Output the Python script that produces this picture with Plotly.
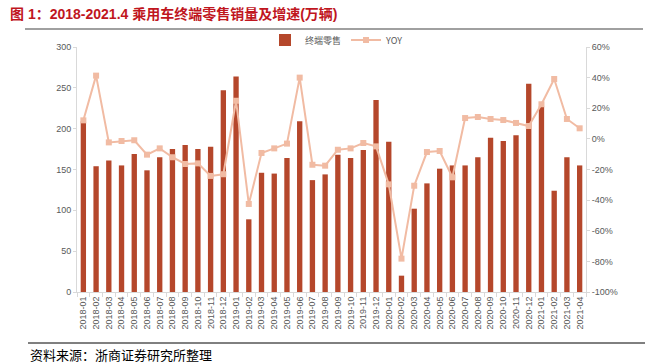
import plotly.graph_objects as go

months = ["2018-01","2018-02","2018-03","2018-04","2018-05","2018-06","2018-07","2018-08","2018-09","2018-10","2018-11","2018-12",
          "2019-01","2019-02","2019-03","2019-04","2019-05","2019-06","2019-07","2019-08","2019-09","2019-10","2019-11","2019-12",
          "2020-01","2020-02","2020-03","2020-04","2020-05","2020-06","2020-07","2020-08","2020-09","2020-10","2020-11","2020-12",
          "2021-01","2021-02","2021-03","2021-04"]
retail = [209, 154, 161, 155, 169, 149, 165, 175, 180, 175, 178, 247,
          264, 89, 146, 145, 164, 209, 137, 144, 168, 164, 174, 235,
          184, 20, 102, 133, 151, 155, 155, 165, 189, 185, 192, 255,
          227, 124, 165, 155]
yoy = [12.1, 41.3, -2.3, -1.4, -0.9, -10.3, -6.2, -12.0, -16.4, -16.0, -24.2, -23.1,
       24.9, -42.5, -9.2, -6.2, -3.1, 40.0, -16.9, -17.5, -7.1, -6.2, -2.7, -4.9,
       -29.7, -78.2, -30.6, -8.6, -7.9, -25.1, 13.6, 14.3, 13.0, 12.3, 10.4, 8.4,
       22.6, 39.1, 13.0, 6.9]
left_ticks = [0, 50, 100, 150, 200, 250, 300]
right_ticks = [-100, -80, -60, -40, -20, 0, 20, 40, 60]

W, H = 656, 363
L, R, T, B = 77, 586, 47, 292

def px(x):
    return (x - L) / (R - L)

def py(y):
    return (B - y) / (B - T)

tickfont = dict(family="Liberation Sans, Arial, sans-serif", size=9, color="#595959")

fig = go.Figure()
fig.add_trace(go.Bar(x=months, y=retail, name="终端零售", marker_color="#B5472B",
                     marker_line_width=0, width=0.42, yaxis="y"))
fig.add_trace(go.Scatter(x=months, y=yoy, name="YOY", mode="lines+markers", yaxis="y2",
                         line=dict(color="#F1BBA3", width=2),
                         marker=dict(symbol="square", size=6, color="#F1BBA3")))

fig.update_layout(
    width=W, height=H,
    margin=dict(l=L, r=W - R, t=T, b=H - B, autoexpand=False),
    paper_bgcolor="white", plot_bgcolor="white",
    showlegend=True,
    legend=dict(orientation="h", x=px(337), xanchor="center", y=py(40), yanchor="middle",
                font=dict(family="Noto Sans CJK SC", size=9, color="#595959"),
                itemwidth=30, traceorder="normal", bgcolor="rgba(0,0,0,0)"),
    xaxis=dict(type="category", range=[-0.5, len(months) - 0.5], tickangle=-90, tickfont=tickfont,
               showgrid=False, automargin=False,
               showline=True, linecolor="#D9D9D9", linewidth=1,
               ticks="outside", ticklen=4, tickcolor="#D9D9D9", tickson="boundaries"),
    yaxis=dict(range=[0, 300], tickvals=left_ticks, tickfont=tickfont, showgrid=False, automargin=False,
               zeroline=False, showline=True, linecolor="#D9D9D9", linewidth=1,
               ticks="outside", ticklen=3, tickcolor="#D9D9D9"),
    yaxis2=dict(range=[-100, 60], tickvals=right_ticks, ticktext=[f"{v}%" for v in right_ticks],
                overlaying="y", side="right", tickfont=tickfont, showgrid=False, automargin=False,
                zeroline=False, showline=True, linecolor="#D9D9D9", linewidth=1,
                ticks="outside", ticklen=3, tickcolor="#D9D9D9"),
    font=dict(family="Noto Sans CJK SC"),
)

fig.add_annotation(text="<b>图 1：2018-2021.4 乘用车终端零售销量及增速(万辆)</b>",
                   xref="paper", yref="paper", x=px(8), y=py(14), xanchor="left", yanchor="middle",
                   showarrow=False,
                   font=dict(family="Liberation Sans, Noto Sans CJK SC", size=14, color="#C0161E"))
fig.add_shape(type="line", xref="paper", yref="paper", x0=px(25), x1=px(643), y0=py(29), y1=py(29),
              line=dict(color="#A0A0A0", width=2))
fig.add_shape(type="line", xref="paper", yref="paper", x0=px(28), x1=px(645), y0=py(343), y1=py(343),
              line=dict(color="#000000", width=1))
fig.add_annotation(text="资料来源：浙商证券研究所整理",
                   xref="paper", yref="paper", x=px(28), y=py(354), xanchor="left", yanchor="middle",
                   showarrow=False,
                   font=dict(family="Noto Sans CJK SC", size=13, color="#000000"))

fig.write_html("out.html", config={"displayModeBar": False},
               post_script="document.body.style.margin='0';")
